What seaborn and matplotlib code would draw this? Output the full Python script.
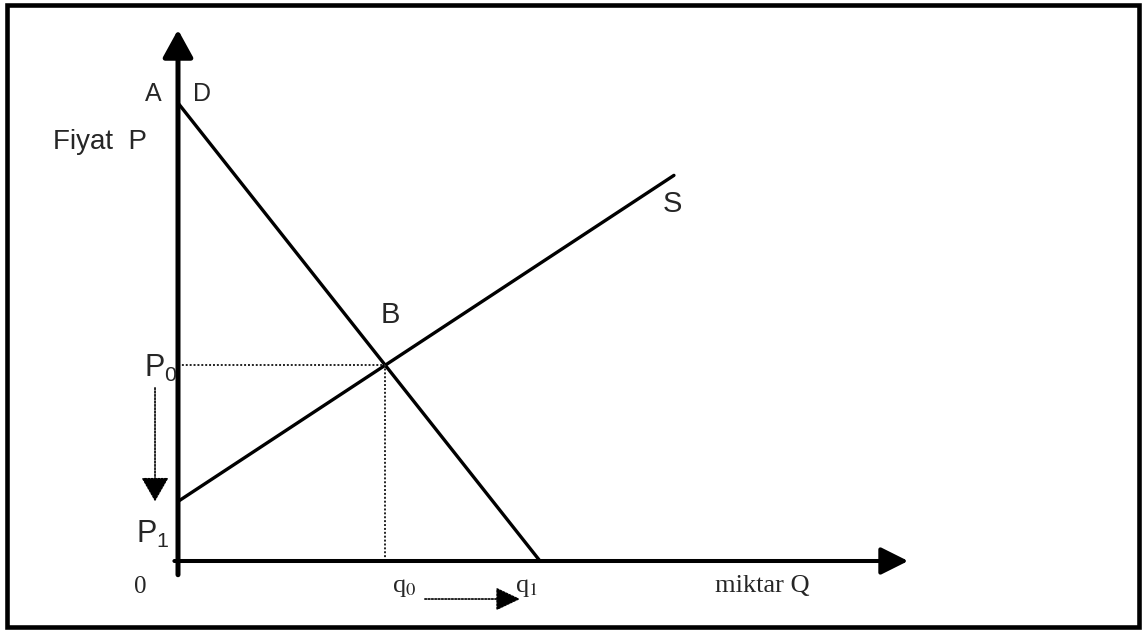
"""
Supply / demand diagram (Fiyat P vs miktar Q) redrawn with seaborn + matplotlib.
"""

import matplotlib
matplotlib.use("Agg")
import matplotlib.pyplot as plt
from matplotlib.patches import Rectangle
import seaborn as sns

# ─── Data (quantity units on x, price units on y) ────────────────────────────
demand_q = [0.0, 10.0]
demand_p = [10.0, 0.0]
supply_q = [0.0, 13.7]
supply_p = [1.3, 8.42]
q0, p0 = 5.72, 4.28        # equilibrium B
q1, p1 = 10.0, 1.3         # new quantity / new price
q_axis_end, p_axis_end = 20.17, 11.6

sns.set_theme(style="white")
plt.rcParams["font.family"] = ["Liberation Sans", "DejaVu Sans"]
plt.rcParams["mathtext.fontset"] = "custom"
plt.rcParams["mathtext.rm"] = "Liberation Sans"

fig = plt.figure(figsize=(11.42, 6.3), dpi=100)
ax = fig.add_axes([0, 0, 1, 1])
# origin sits at pixel (178, 561); 36.2 px per Q unit, 45.8 px per P unit
ax.set_xlim(-178 / 36.2, (1142 - 178) / 36.2)
ax.set_ylim(-(630 - 561) / 45.8, 561 / 45.8)
ax.axis("off")

# outer frame
fig.patches.append(Rectangle((7 / 1142, 3 / 630), 1132 / 1142, 622 / 630,
                             transform=fig.transFigure, fill=False,
                             edgecolor="black", lw=3.3))

# ─── Axes with arrowheads ────────────────────────────────────────────────────
ax.annotate("", xy=(0, p_axis_end), xytext=(0, -0.3),
            arrowprops=dict(arrowstyle="-|>,head_length=0.4,head_width=0.22",
                            mutation_scale=42, lw=3.6, color="black",
                            shrinkA=0, shrinkB=0))
ax.annotate("", xy=(q_axis_end, 0), xytext=(-0.1, 0),
            arrowprops=dict(arrowstyle="-|>,head_length=0.4,head_width=0.2",
                            mutation_scale=42, lw=2.9, color="black",
                            shrinkA=0, shrinkB=0))

# ─── Curves ──────────────────────────────────────────────────────────────────
line_kw = dict(ax=ax, estimator=None, sort=False)
sns.lineplot(x=demand_q, y=demand_p, color="black", lw=2.4, **line_kw)
sns.lineplot(x=supply_q, y=supply_p, color="black", lw=2.4, **line_kw)

# equilibrium guides
sns.lineplot(x=[0, q0], y=[p0, p0], color="#222222", lw=1.4,
             linestyle=(0, (1, 1)), **line_kw)
sns.lineplot(x=[q0, q0], y=[0, p0], color="#222222", lw=1.4,
             linestyle=(0, (1, 1)), **line_kw)

# dotted shift arrows (P0 -> P1, q0 -> q1)
ax.annotate("", xy=(-0.635, p1), xytext=(-0.635, 3.78),
            arrowprops=dict(arrowstyle="-|>,head_length=0.42,head_width=0.24",
                            mutation_scale=36, lw=1.2, color="black",
                            linestyle=(0, (1, 1)), shrinkA=0, shrinkB=0))
ax.annotate("", xy=(9.45, -0.83), xytext=(6.82, -0.83),
            arrowprops=dict(arrowstyle="-|>,head_length=0.42,head_width=0.2",
                            mutation_scale=36, lw=1.2, color="black",
                            linestyle=(0, (1, 1)), shrinkA=0, shrinkB=0))

# ─── Labels ──────────────────────────────────────────────────────────────────
ax.text(-0.69, 10.04, "A", fontsize=18, ha="center", va="baseline")
ax.text(0.66, 10.04, "D", fontsize=18, ha="center", va="baseline")
ax.text(-0.86, 8.99, "Fiyat  P", fontsize=20, ha="right", va="baseline")
ax.text(13.65, 7.62, "S", fontsize=21, ha="center", va="baseline")
ax.text(5.86, 5.20, "B", fontsize=21, ha="center", va="baseline")
ax.text(-0.93, 4.02, r"P$_0$", fontsize=22, ha="left", va="baseline")
ax.text(-1.15, 0.39, r"P$_1$", fontsize=22, ha="left", va="baseline")

serif = dict(family=["Liberation Serif", "DejaVu Serif"], math_fontfamily="stix")
ax.text(-1.05, -0.70, "0", fontsize=18, ha="center", va="baseline", **serif)
ax.text(5.91, -0.68, r"q$_{0}$", fontsize=19, ha="left", va="baseline", **serif)
ax.text(9.31, -0.68, r"q$_{1}$", fontsize=19, ha="left", va="baseline", **serif)
ax.text(14.83, -0.68, "miktar Q", fontsize=19, ha="left", va="baseline", **serif)

plt.savefig("out.png", dpi=100)
plt.close()
